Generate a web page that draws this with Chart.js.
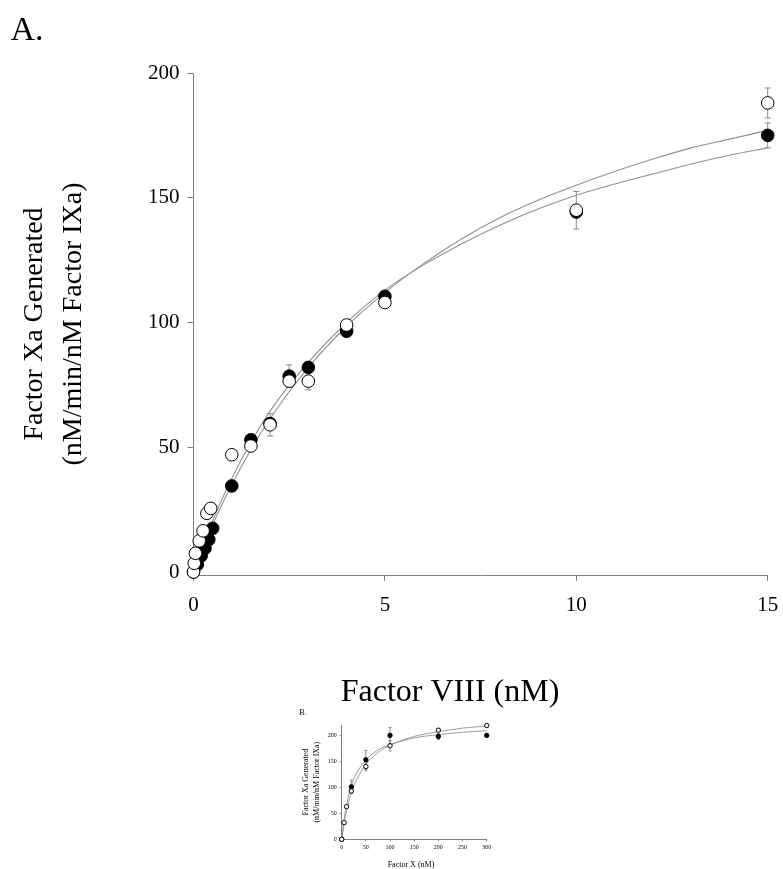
<!DOCTYPE html>
<html>
<head>
<meta charset="utf-8">
<script src="https://cdn.jsdelivr.net/npm/chart.js@4.4.0/dist/chart.umd.min.js"></script>
<style>
  body { margin: 0; background: #fff; }
  #wrap { position: relative; width: 783px; height: 869px; }
  #mainChart { position: absolute; left: 0; top: 0; }
  #insetChart { position: absolute; left: 290px; top: 690px; }
</style>
</head>
<body>
<div id="wrap">
  <canvas id="mainChart" width="783" height="720"></canvas>
  <canvas id="insetChart" width="220" height="179"></canvas>
</div>
<script>
// --- Panel A: Factor VIII titration ---
const openX   = [0, 0.02, 0.05, 0.15, 0.25, 0.35, 0.45, 1, 1.5, 2, 2.5, 3, 4, 5, 10, 15];
const openY   = [0, 3.5, 7.5, 12.5, 16.5, 23.5, 25.5, 47, 50.5, 59, 76.5, 76.5, 99, 108, 145, 188];
const openErr = [0, 0, 0, 0, 0, 0, 0, 0, 0, 4.5, 0, 3.5, 0, 0, 7.5, 6];

const filledX   = [0, 0.1, 0.2, 0.3, 0.4, 0.5, 1, 1.5, 2, 2.5, 3, 4, 5, 10, 15];
const filledY   = [0, 3, 6.5, 9.5, 13, 17.5, 34.5, 53, 59.5, 78.5, 82, 96.5, 110.5, 144.3, 175];
const filledErr = [0, 0, 0, 0, 0, 0, 0, 0, 0, 4.5, 0, 0, 0, 0, 5];

// fitted curves
const fitX      = [0, 0.5, 1, 1.5, 2, 3, 4, 5, 6, 7, 8, 9, 10, 11, 12, 13, 14, 15];
const fitUpper  = [0, 18.9, 35, 49, 61.5, 82, 98.5, 112, 123.5, 133.5, 142, 149, 155, 160.5, 165.5, 170, 173.5, 177];
const fitLower  = [0, 20.5, 37.5, 52, 64.5, 84, 100, 113, 123, 131.5, 139, 145.5, 151, 155.5, 159.5, 163.5, 167, 170];

const xTicksA = [0, 5, 10, 15];
const yTicksA = [0, 50, 100, 150, 200];

// --- Panel B: Factor X titration (inset) ---
const bOpenX   = [0, 5, 10, 20, 50, 100, 200, 300];
const bOpenY   = [0, 32, 63, 93, 140, 180, 210, 219];
const bOpenErr = [0, 0, 0, 0, 8, 10, 0, 0];

const bFilledX   = [0, 20, 50, 100, 200, 300];
const bFilledY   = [0, 101, 153, 200, 198, 200];
const bFilledErr = [0, 13, 18, 15, 6, 0];

const bFitX     = [0, 5, 10, 20, 30, 50, 75, 100, 150, 200, 250, 300];
const bFitUpper = [0, 30, 55, 90, 113, 144, 167, 181, 198, 207, 214, 218];
const bFitLower = [0, 39, 66, 103, 126, 152, 172, 182, 195, 201.5, 206, 209];

const xTicksB = [0, 50, 100, 150, 200, 250, 300];
const yTicksB = [0, 50, 100, 150, 200];

const serif = "'Liberation Serif', 'Times New Roman', serif";
const axisGray = '#808080';
const curveGray = '#909090';

function pts(xs, ys) {
    return xs.map((x, i) => ({ x: x, y: ys[i] }));
}

// error bars drawn under the markers
const errorBars = {
    id: 'errorBars',
    beforeDatasetsDraw(chart, args, opts) {
        const ctx = chart.ctx;
        const xs = chart.scales.x, ys = chart.scales.y;
        ctx.save();
        ctx.strokeStyle = opts.color || '#888';
        ctx.lineWidth = 1;
        chart.data.datasets.forEach(ds => {
            if (!ds.errors) return;
            ds.data.forEach((p, i) => {
                const e = ds.errors[i];
                if (!e) return;
                const px = xs.getPixelForValue(p.x);
                const top = ys.getPixelForValue(p.y + e);
                const bot = ys.getPixelForValue(p.y - e);
                const c = opts.cap || 3;
                ctx.beginPath();
                ctx.moveTo(px, top); ctx.lineTo(px, bot);
                ctx.moveTo(px - c, top); ctx.lineTo(px + c, top);
                ctx.moveTo(px - c, bot); ctx.lineTo(px + c, bot);
                ctx.stroke();
            });
        });
        ctx.restore();
    }
};

// free text: panel letters and x titles
const freeText = {
    id: 'freeText',
    afterDraw(chart, args, opts) {
        const ctx = chart.ctx;
        ctx.save();
        ctx.fillStyle = '#000';
        ctx.textAlign = 'center';
        ctx.textBaseline = 'middle';
        (opts.items || []).forEach(t => {
            ctx.font = t.size + 'px ' + serif;
            ctx.fillText(t.text, t.x, t.y);
        });
        ctx.restore();
    }
};

function buildChart(canvasId, cfg) {
    const openDs = {
        data: pts(cfg.openX, cfg.openY), errors: cfg.openErr, order: 0,
        pointRadius: cfg.r, pointHoverRadius: cfg.r,
        pointBackgroundColor: '#fff', pointBorderColor: '#000', pointBorderWidth: 1, clip: false
    };
    const filledDs = {
        data: pts(cfg.filledX, cfg.filledY), errors: cfg.filledErr, order: 1,
        pointRadius: cfg.r, pointHoverRadius: cfg.r,
        pointBackgroundColor: '#000', pointBorderColor: '#000', pointBorderWidth: 1, clip: false
    };
    const curve = (ys, o) => ({
        data: pts(cfg.fitX, ys), order: o, showLine: true, pointRadius: 0,
        borderColor: curveGray, borderWidth: cfg.lw, cubicInterpolationMode: 'monotone'
    });

    return new Chart(document.getElementById(canvasId), {
        type: 'scatter',
        data: { datasets: [openDs, filledDs, curve(cfg.fitUpper, 2), curve(cfg.fitLower, 3)] },
        options: {
            responsive: false,
            devicePixelRatio: 1,
            animation: false,
            layout: { padding: cfg.padding },
            plugins: {
                legend: { display: false },
                tooltip: { enabled: false },
                errorBars: { cap: cfg.cap, color: '#888' },
                freeText: { items: cfg.texts }
            },
            scales: {
                x: {
                    type: 'linear', min: cfg.xMin, max: cfg.xMax,
                    afterBuildTicks: s => { s.ticks = cfg.xTicks.map(v => ({ value: v })); },
                    afterFit: s => { s.height = cfg.xHeight; s.paddingLeft = 0; s.paddingRight = 0; },
                    grid: { drawOnChartArea: false, tickLength: cfg.tick, color: axisGray },
                    border: { color: axisGray },
                    ticks: { color: '#000', font: { family: serif, size: cfg.tickFont }, padding: cfg.xPad, maxRotation: 0 }
                },
                y: {
                    type: 'linear', min: cfg.yMin, max: cfg.yMax,
                    afterBuildTicks: s => { s.ticks = cfg.yTicks.map(v => ({ value: v })); },
                    afterFit: s => { s.width = cfg.yWidth; s.paddingTop = 0; s.paddingBottom = 0; },
                    grid: { drawOnChartArea: false, tickLength: cfg.tick, color: axisGray },
                    border: { color: axisGray },
                    ticks: { color: '#000', font: { family: serif, size: cfg.tickFont }, padding: cfg.yPad },
                    title: {
                        display: true,
                        text: ['Factor Xa Generated', '(nM/min/nM Factor IXa)'],
                        color: '#000',
                        font: { family: serif, size: cfg.titleFont, lineHeight: 1.4 },
                        padding: { top: cfg.titlePad, bottom: 0 }
                    }
                }
            }
        },
        plugins: [errorBars, freeText]
    });
}

document.addEventListener('DOMContentLoaded', function() {
    buildChart('mainChart', {
        openX, openY, openErr, filledX, filledY, filledErr,
        fitX, fitUpper, fitLower,
        xMin: 0, xMax: 15, yMin: -1.2, yMax: 200,
        xTicks: xTicksA, yTicks: yTicksA,
        r: 6.3, lw: 1.1, cap: 3, tick: 6,
        tickFont: 21, titleFont: 28, titlePad: 15,
        xPad: 12, yPad: 8,
        yWidth: 193.5, xHeight: 145,
        padding: { top: 73, right: 15.3, left: 0, bottom: 0 },
        texts: [
            { text: 'A.', x: 27, y: 31, size: 34 },
            { text: 'Factor VIII (nM)', x: 450, y: 693, size: 32 }
        ]
    });

    buildChart('insetChart', {
        openX: bOpenX, openY: bOpenY, openErr: bOpenErr,
        filledX: bFilledX, filledY: bFilledY, filledErr: bFilledErr,
        fitX: bFitX, fitUpper: bFitUpper, fitLower: bFitLower,
        xMin: 0, xMax: 300, yMin: 0, yMax: 220,
        xTicks: xTicksB, yTicks: yTicksB,
        r: 2.2, lw: 0.9, cap: 1.5, tick: 2,
        tickFont: 6, titleFont: 8, titlePad: 10,
        xPad: 3, yPad: 3,
        yWidth: 51.7, xHeight: 29.7,
        padding: { top: 35, right: 23.3, left: 0, bottom: 0 },
        texts: [
            { text: 'B.', x: 13, y: 23, size: 8 },
            { text: 'Factor X (nM)', x: 121, y: 175, size: 8 }
        ]
    });
});
</script>
</body>
</html>
